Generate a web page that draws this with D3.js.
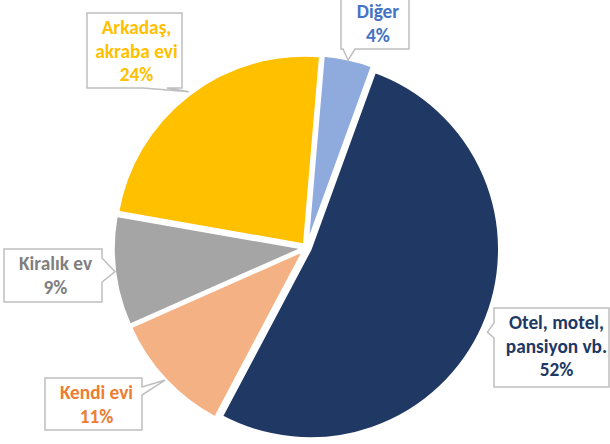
<!DOCTYPE html>
<html>
<head>
<meta charset="utf-8">
<script src="https://cdn.jsdelivr.net/npm/d3@7"></script>
<style>
  html, body { margin: 0; padding: 0; background: #fff; }
  svg { display: block; }
  text { font-family: Carlito, Calibri, Lato, "Liberation Sans", sans-serif; font-weight: bold; }
</style>
</head>
<body>
<svg id="chart" width="610" height="444"></svg>
<script>
// ---- data ----
const categories = ["Otel, motel, pansiyon vb.", "Kendi evi", "Kiralık ev", "Arkadaş, akraba evi", "Diğer"];
const labelLines = [["Otel, motel,", "pansiyon vb."], ["Kendi evi"], ["Kiralık ev"], ["Arkadaş,", "akraba evi"], ["Diğer"]];
const values = [52.2, 10.6, 9.4, 23.6, 4.2];

// ---- styles ----
const sliceColors = ["#203864", "#f4b183", "#a5a5a5", "#ffc000", "#8faadc"];
const textColors  = ["#203864", "#ed7d31", "#7f7f7f", "#ffc000", "#4472c4"];

// ---- layout ----
const cx = 306.6, cy = 247.8, radius = 189, explode = 4, startDeg = 20;
// callout boxes: [x, y, w, h], pointer side and base range (px along side)
const boxes = [
  {x: 494, y: 308, w: 115, h: 79, side: "left",   b: [15, 30], tipDx: 9, tipDy: 8, tdx: 5},
  {x: 45,  y: 378, w: 97,  h: 52, side: "right",  b: [9, 17],  tipDx: -4, tipDy: 4, tdx: 3},
  {x: 4,   y: 249, w: 98,  h: 53, side: "right",  b: [9, 33],  tipDx: -5, tipDy: 1, tdx: 2.5},
  {x: 87,  y: 13,  w: 95,  h: 75, side: "bottom", b: [56, 80], tipDx: -3, tipDy: -7, tdx: 2},
  {x: 341, y: -3,  w: 68,  h: 52, side: "bottom", b: [2, 14],  tipDx: 1, tipDy: -4, tdx: 3}
];

const svg = d3.select("#chart");
const pie = d3.pie().sort(null).value(d => d)
  .startAngle(startDeg * Math.PI / 180)
  .endAngle(startDeg * Math.PI / 180 + 2 * Math.PI);
const arcs = pie(values);
const arc = d3.arc().innerRadius(0).outerRadius(radius);

const g = svg.append("g").attr("transform", `translate(${cx},${cy})`);
g.selectAll("path.slice").data(arcs).enter().append("path")
  .attr("class", "slice")
  .attr("d", arc)
  .attr("fill", (d, i) => sliceColors[i])
  .attr("stroke", "#fff")
  .attr("stroke-width", 2.5)
  .attr("stroke-linejoin", "miter")
  .attr("transform", d => {
    const m = (d.startAngle + d.endAngle) / 2;
    return `translate(${explode * Math.sin(m)},${-explode * Math.cos(m)})`;
  });

// callouts
const fmt = v => Math.round(v) + "%";
const lineH = 23.5;
arcs.forEach((d, i) => {
  const bx = boxes[i];
  const m = (d.startAngle + d.endAngle) / 2;
  const tr = radius - 1;
  const tip = [cx + tr * Math.sin(m) + bx.tipDx, cy - tr * Math.cos(m) + bx.tipDy];
  const x0 = bx.x, y0 = bx.y, x1 = bx.x + bx.w, y1 = bx.y + bx.h;
  let pts;
  if (bx.side === "bottom") {
    pts = [[x0,y0],[x1,y0],[x1,y1],[x0+bx.b[1],y1],tip,[x0+bx.b[0],y1],[x0,y1]];
  } else if (bx.side === "right") {
    pts = [[x0,y0],[x1,y0],[x1,y0+bx.b[0]],tip,[x1,y0+bx.b[1]],[x1,y1],[x0,y1]];
  } else {
    pts = [[x0,y0],[x1,y0],[x1,y1],[x0,y1],[x0,y0+bx.b[1]],tip,[x0,y0+bx.b[0]]];
  }
  svg.append("path")
    .attr("d", d3.line()(pts) + "Z")
    .attr("fill", "#fff")
    .attr("stroke", "#bfbfbf")
    .attr("stroke-width", 1.5);
  const lines = labelLines[i].concat([fmt(values[i])]);
  const t = svg.append("text")
    .attr("fill", textColors[i])
    .attr("font-size", 19.3)
    .attr("text-anchor", "middle");
  lines.forEach((ln, k) => {
    t.append("tspan")
      .attr("x", x0 + bx.w / 2 + bx.tdx)
      .attr("y", y0 + 21 + k * lineH)
      .text(ln);
  });
});
</script>
</body>
</html>
